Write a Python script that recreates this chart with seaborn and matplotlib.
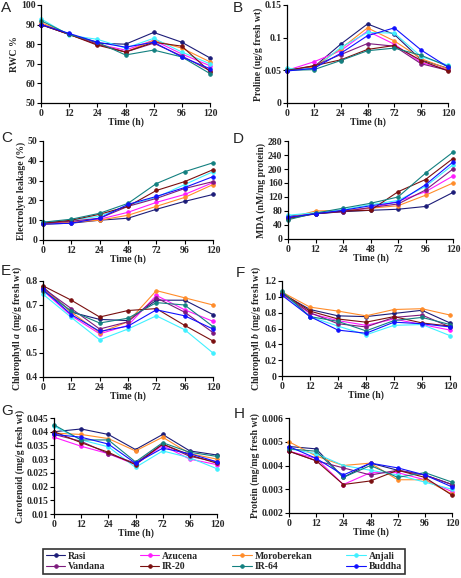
import pandas as pd
import seaborn as sns
from matplotlib import pyplot as plt
from matplotlib.ticker import FuncFormatter, MultipleLocator

# time points (h) and cultivars
times = ['0', '12', '24', '48', '72', '96', '120']
cultivars = ['Rasi', 'Azucena', 'Moroberekan', 'Anjali', 'Vandana', 'IR-20', 'IR-64', 'Buddha']
colors = ['#1c1c78', '#ff1aff', '#ff8c2a', '#40f0ff', '#7d1a7d', '#7a0f0f', '#138080', '#1010ff']

# values per cultivar, same order as cultivars
rwc = [
    [90, 85, 80.5, 80, 86, 81, 73],
    [90.5, 85, 80, 77, 82, 75, 69],
    [91, 85, 80, 76, 82, 78, 71],
    [93, 84.5, 82.5, 78, 83, 76, 70],
    [90, 85, 80, 76, 80.5, 74, 66.5],
    [90, 85, 79.5, 76, 81, 79, 66],
    [92, 85, 81, 74.5, 77, 73.5, 65],
    [90, 85.5, 81, 78.5, 81, 73.5, 67.5],
]
proline = [
    [0.050, 0.055, 0.090, 0.121, 0.105, 0.066, 0.053],
    [0.050, 0.063, 0.080, 0.110, 0.090, 0.062, 0.051],
    [0.049, 0.055, 0.083, 0.115, 0.095, 0.068, 0.052],
    [0.053, 0.052, 0.085, 0.108, 0.107, 0.071, 0.058],
    [0.049, 0.057, 0.074, 0.091, 0.087, 0.060, 0.050],
    [0.050, 0.057, 0.066, 0.082, 0.088, 0.065, 0.049],
    [0.050, 0.051, 0.065, 0.080, 0.084, 0.073, 0.056],
    [0.049, 0.053, 0.076, 0.103, 0.115, 0.081, 0.055],
]
leakage = [
    [8, 8.5, 10, 11, 15.5, 19.5, 23],
    [8.5, 9, 10.5, 14, 19, 23, 29],
    [8, 9, 10, 12.5, 17, 21.5, 28],
    [9, 10, 12, 17.5, 21.5, 28, 34.5],
    [8.5, 9.5, 11, 17, 21, 26, 29.5],
    [8.5, 10, 13, 17, 25, 29.5, 35.5],
    [9, 10.5, 13.5, 18.5, 28.5, 34.5, 39],
    [8, 8.5, 11, 18, 22, 26.5, 32],
]
mda = [
    [65, 72, 78, 82, 85, 93, 133],
    [62, 74, 80, 88, 108, 135, 180],
    [60, 80, 82, 88, 95, 125, 160],
    [68, 75, 84, 98, 110, 150, 212],
    [60, 73, 78, 90, 100, 140, 200],
    [58, 72, 80, 82, 135, 170, 230],
    [55, 74, 88, 102, 120, 188, 248],
    [62, 72, 82, 95, 105, 155, 220],
]
chl_a = [
    [0.775, 0.67, 0.64, 0.635, 0.72, 0.72, 0.66],
    [0.76, 0.655, 0.58, 0.615, 0.74, 0.68, 0.632],
    [0.77, 0.67, 0.585, 0.63, 0.76, 0.73, 0.70],
    [0.745, 0.648, 0.555, 0.60, 0.655, 0.597, 0.50],
    [0.77, 0.685, 0.60, 0.63, 0.73, 0.67, 0.585],
    [0.78, 0.72, 0.65, 0.677, 0.685, 0.615, 0.55],
    [0.76, 0.675, 0.625, 0.645, 0.71, 0.70, 0.61],
    [0.765, 0.66, 0.59, 0.612, 0.68, 0.655, 0.60],
]
chl_b = [
    [1.04, 0.84, 0.76, 0.75, 0.79, 0.83, 0.67],
    [1.03, 0.79, 0.70, 0.64, 0.72, 0.65, 0.58],
    [1.06, 0.87, 0.82, 0.76, 0.84, 0.85, 0.77],
    [1.05, 0.75, 0.63, 0.52, 0.64, 0.65, 0.51],
    [1.04, 0.80, 0.66, 0.62, 0.74, 0.77, 0.62],
    [1.05, 0.82, 0.72, 0.68, 0.75, 0.67, 0.63],
    [1.07, 0.75, 0.69, 0.57, 0.70, 0.74, 0.65],
    [1.02, 0.75, 0.58, 0.54, 0.68, 0.66, 0.62],
]
carotenoid = [
    [0.040, 0.041, 0.039, 0.0335, 0.039, 0.033, 0.0315],
    [0.038, 0.0347, 0.032, 0.028, 0.035, 0.030, 0.028],
    [0.0395, 0.039, 0.0375, 0.033, 0.038, 0.032, 0.030],
    [0.042, 0.037, 0.0345, 0.027, 0.033, 0.0305, 0.0265],
    [0.039, 0.0365, 0.032, 0.0285, 0.0355, 0.031, 0.029],
    [0.040, 0.036, 0.0325, 0.028, 0.0355, 0.0315, 0.0285],
    [0.0425, 0.037, 0.037, 0.029, 0.036, 0.0325, 0.031],
    [0.039, 0.038, 0.0355, 0.0285, 0.034, 0.032, 0.029],
]
protein = [
    [0.0048, 0.0047, 0.0035, 0.0041, 0.0038, 0.0036, 0.0032],
    [0.0046, 0.0043, 0.0032, 0.0037, 0.0037, 0.0034, 0.0029],
    [0.0050, 0.0044, 0.0040, 0.0041, 0.0034, 0.0034, 0.0028],
    [0.0047, 0.0045, 0.0040, 0.0038, 0.0036, 0.0033, 0.0030],
    [0.0046, 0.0042, 0.0039, 0.0036, 0.0038, 0.0036, 0.0032],
    [0.0046, 0.0042, 0.0032, 0.00335, 0.0038, 0.0035, 0.00275],
    [0.0047, 0.0046, 0.0035, 0.0040, 0.0035, 0.0037, 0.0033],
    [0.0048, 0.0043, 0.0036, 0.0041, 0.0039, 0.0036, 0.0031],
]

sns.set_style('ticks')
plt.rcParams['font.family'] = ['Liberation Serif', 'DejaVu Serif']
plt.rcParams['font.weight'] = 'bold'
plt.rcParams['axes.labelweight'] = 'bold'
plt.rcParams['mathtext.fontset'] = 'custom'
plt.rcParams['mathtext.it'] = 'Liberation Serif:italic:bold'
plt.rcParams['mathtext.rm'] = 'Liberation Serif:bold'


def to_long(values):
    rows = []
    for name, series in zip(cultivars, values):
        for t, v in zip(times, series):
            rows.append({'time': t, 'value': v, 'cultivar': name})
    return pd.DataFrame(rows)


def fmt_g(v, pos):
    return '%g' % round(v, 6)


def fmt_1(v, pos):
    return '0' if abs(v) < 1e-9 else '%.1f' % v


# (letter, data, ylabel, ylim, ystep, formatter, axes rect in px (l, t, r, b), letter pos in px)
panels = [
    ('A', rwc, 'RWC %', (50, 100), 10, fmt_g, (41, 5, 210, 103), (1, 1)),
    ('B', proline, 'Proline (ug/g fresh wt)', (0, 0.15), 0.05, fmt_g, (287, 5, 448, 103), (233, 1)),
    ('C', leakage, 'Electrolyte leakage (%)', (0, 50), 10, fmt_g, (43, 141, 213, 240), (1, 131)),
    ('D', mda, 'MDA (nM/mg protein)', (0, 280), 40, fmt_g, (288, 141, 453, 239), (233, 132)),
    ('E', chl_a, 'Chlorophyll $\\mathit{a}$ (mg/g fresh wt)', (0.4, 0.8), 0.1, fmt_1, (43, 281, 213, 377), (1, 264)),
    ('F', chl_b, 'Chlorophyll $\\mathit{b}$ (mg/g fresh wt)', (0, 1.2), 0.2, fmt_1, (282, 281, 450, 376), (236, 266)),
    ('G', carotenoid, 'Carotenoid (mg/g fresh wt)', (0.01, 0.045), 0.005, fmt_g, (54, 418, 217, 514), (1, 404)),
    ('H', protein, 'Protein (mg/mg fresh wt)', (0.002, 0.006), 0.001, fmt_g, (289, 418, 452, 513), (234, 407)),
]

W, H = 461, 578
fig = plt.figure(figsize=(W / 100, H / 100), dpi=100)
handles = None
for letter, values, ylabel, ylim, ystep, fmt, (l, t, r, b), (lx, ly) in panels:
    ax = fig.add_axes([l / W, 1 - b / H, (r - l) / W, (b - t) / H])
    df = to_long(values)
    sns.pointplot(data=df, x='time', y='value', hue='cultivar', order=times,
                  hue_order=cultivars, palette=colors, errorbar=None,
                  markers='o', markersize=2.6, linewidth=0.8, ax=ax)
    if handles is None:
        handles, labels = ax.get_legend_handles_labels()
    if ax.get_legend() is not None:
        ax.get_legend().remove()
    for line in ax.lines:
        line.set_clip_on(False)
    ax.set_xlim(0, 6)
    ax.set_ylim(*ylim)
    ax.yaxis.set_major_locator(MultipleLocator(ystep))
    ax.yaxis.set_major_formatter(FuncFormatter(fmt))
    ax.set_xlabel('Time (h)', fontsize=7, labelpad=0)
    ax.set_ylabel(ylabel, fontsize=7, labelpad=1)
    ax.tick_params(labelsize=7, length=3, width=0.8, pad=1, color='black')
    for lab in ax.get_xticklabels() + ax.get_yticklabels():
        lab.set_fontweight('bold')
    sns.despine(ax=ax)
    for s in ['left', 'bottom']:
        ax.spines[s].set_color('black')
        ax.spines[s].set_linewidth(0.9)
    fig.text(lx / W, 1 - ly / H, letter, family='Liberation Sans',
             fontweight='normal', fontsize=11, va='top', ha='left')

# legend laid out in two rows of four
order = [0, 4, 1, 5, 2, 6, 3, 7]
leg = fig.legend([handles[i] for i in order], [cultivars[i] for i in order],
                 ncol=4, loc='center', bbox_to_anchor=(224 / W, 1 - 561.5 / H),
                 fontsize=7, frameon=True, fancybox=False, handlelength=2.0,
                 columnspacing=3.5, handletextpad=0.3, labelspacing=0.2,
                 borderpad=0.3)
leg.get_frame().set_edgecolor('black')
leg.get_frame().set_linewidth(1.2)

fig.savefig('out.png', dpi=100)
